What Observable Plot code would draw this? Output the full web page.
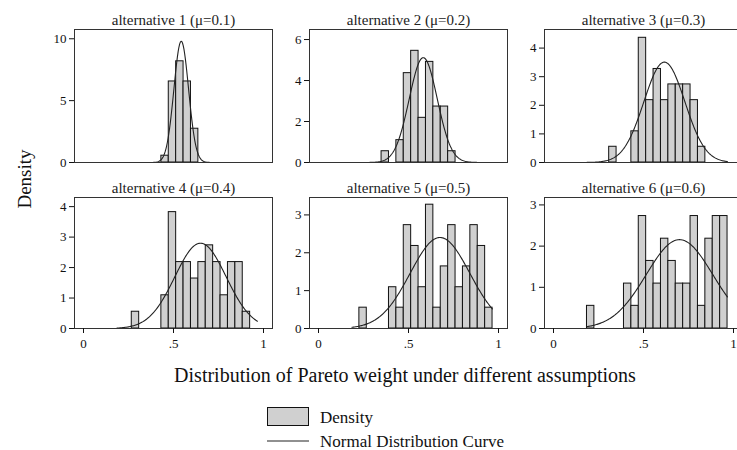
<!DOCTYPE html>
<html><head><meta charset="utf-8">
<script src="https://cdn.jsdelivr.net/npm/d3@7"></script>
<script src="https://cdn.jsdelivr.net/npm/@observablehq/plot@0.6"></script>
<style>
body{margin:0;background:#fff;}
#root{position:relative;width:737px;height:450px;overflow:hidden;font-family:"Liberation Serif",serif;color:#111;}
.abs{position:absolute;white-space:nowrap;line-height:1;}
.panel{position:absolute;}
</style></head><body><div id="root"></div>
<script>
// ---- data ----
const titles = ["alternative 1 (μ=0.1)", "alternative 2 (μ=0.2)", "alternative 3 (μ=0.3)",
                "alternative 4 (μ=0.4)", "alternative 5 (μ=0.5)", "alternative 6 (μ=0.6)"];
const binStart = 0.186;
const binWidth = 0.0411;
// density per bin (19 common bins)
const density1 = [0,0,0,0,0,0,0.55,6.55,8.18,6.55,2.73,0,0,0,0,0,0,0,0];
const density2 = [0,0,0,0,0.55,0,1.09,4.36,5.45,2.18,4.91,2.73,2.73,0.55,0,0,0,0,0];
const density3 = [0,0,0,0.55,0,0,1.09,4.36,2.18,3.27,2.18,2.73,2.73,2.73,2.18,0.55,0,0,0];
const density4 = [0,0,0.55,0,0,0,1.09,3.82,2.18,2.18,1.64,2.18,2.73,2.18,1.09,2.18,2.18,0.55,0];
const density5 = [0,0.55,0,0,0,1.09,0.55,2.73,2.18,1.09,3.27,0.55,1.64,2.73,1.09,1.64,2.73,2.18,0.55];
const density6 = [0.55,0,0,0,0,1.09,0.55,2.73,1.64,1.09,2.18,1.64,1.09,1.09,2.73,0.55,2.18,2.73,2.73];
const densities = [density1, density2, density3, density4, density5, density6];
const curveMu = [0.543, 0.582, 0.616, 0.650, 0.675, 0.700];
const curveSigma = [0.0407, 0.078, 0.1137, 0.1425, 0.166, 0.185];
const curveRange = [0.186, 0.966];
const yMax = [10.75, 6.49, 4.65, 4.3, 3.46, 3.18];
const yTicks = [[0,5,10],[0,2,4,6],[0,1,2,3,4],[0,1,2,3,4],[0,1,2,3],[0,1,2,3]];
const xTicks = [0, 0.5, 1];
const xTickLabels = ["0", ".5", "1"];
const xTitle = "Distribution of Pareto weight under different assumptions";
const yTitle = "Density";
const legendLabels = ["Density", "Normal Distribution Curve"];

// ---- layout ----
const root = document.getElementById("root");
const colLeft = [74, 309, 544], rowTop = [29, 197], rowH = [133, 131], frameW = 198;
const mL = 34, mT = 24;
const barFill = "#d0d0d0";

densities.forEach((dens, i) => {
  const row = Math.floor(i / 3), col = i % 3;
  const bins = dens.map((d, k) => ({x1: binStart + k * binWidth, x2: binStart + (k + 1) * binWidth, y: d}))
                   .filter(d => d.y > 0);
  const xs = d3.range(curveRange[0], curveRange[1], 0.004).concat([curveRange[1]]);
  const mu = curveMu[i], sd = curveSigma[i];
  const curve = xs.map(x => ({x, y: Math.exp(-0.5 * ((x - mu) / sd) ** 2) / (sd * Math.sqrt(2 * Math.PI))}));
  const mB = row === 0 ? 3 : 32;
  const plot = Plot.plot({
    width: mL + frameW + 1,
    height: mT + rowH[row] + mB,
    marginLeft: mL, marginRight: 1, marginTop: mT, marginBottom: mB,
    x: {domain: [-0.05, 1.05], axis: null},
    y: {domain: [0, yMax[i]], axis: null},
    style: {fontFamily: "Liberation Serif, serif", fontSize: "13px", background: "transparent", color: "#111", overflow: "visible"},
    marks: [
      Plot.rect(bins, {x1: "x1", x2: "x2", y1: 0, y2: "y", fill: barFill, stroke: "#111", strokeWidth: 1}),
      Plot.line(curve, {x: "x", y: "y", stroke: "#222", strokeWidth: 1.1, curve: "linear"}),
      Plot.frame({stroke: "#333", strokeWidth: 1}),
      Plot.axisY({ticks: yTicks[i], tickSize: 5, tickPadding: 3, label: null, tickFormat: d => String(d)}),
      row === 1 ? Plot.axisX({ticks: xTicks, tickSize: 5, tickPadding: 5, label: null,
                              tickFormat: d => xTickLabels[xTicks.indexOf(d)]}) : null,
      Plot.text([titles[i]], {frameAnchor: "top", lineAnchor: "bottom", dy: -5, fontSize: 15, fill: "#222"})
    ]
  });
  plot.classList.add("panel");
  plot.style.left = (colLeft[col] - mL) + "px";
  plot.style.top = (rowTop[row] - mT) + "px";
  root.appendChild(plot);
});

// axis titles
const yt = document.createElement("div");
yt.className = "abs";
yt.textContent = yTitle;
yt.style.fontSize = "19px";
yt.style.left = "24px"; yt.style.top = "179px";
yt.style.transform = "translate(-50%,-50%) rotate(-90deg)";
root.appendChild(yt);

const xt = document.createElement("div");
xt.className = "abs";
xt.textContent = xTitle;
xt.style.fontSize = "20px";
xt.style.left = "405px"; xt.style.top = "375px";
xt.style.transform = "translate(-50%,-50%)";
root.appendChild(xt);

// legend
const ns = "http://www.w3.org/2000/svg";
const lg = document.createElementNS(ns, "svg");
lg.setAttribute("width", 737); lg.setAttribute("height", 450);
lg.style.position = "absolute"; lg.style.left = "0"; lg.style.top = "0";
lg.innerHTML = `
  <rect x="267.5" y="407.5" width="41" height="18" fill="${barFill}" stroke="#111" stroke-width="1"/>
  <line x1="267" x2="309" y1="441" y2="441" stroke="#222" stroke-width="1.1"/>
  <text x="320" y="417" dominant-baseline="central" font-family="Liberation Serif, serif" font-size="17" fill="#111">${legendLabels[0]}</text>
  <text x="320" y="441" dominant-baseline="central" font-family="Liberation Serif, serif" font-size="17" fill="#111">${legendLabels[1]}</text>`;
root.appendChild(lg);
</script></body></html>
